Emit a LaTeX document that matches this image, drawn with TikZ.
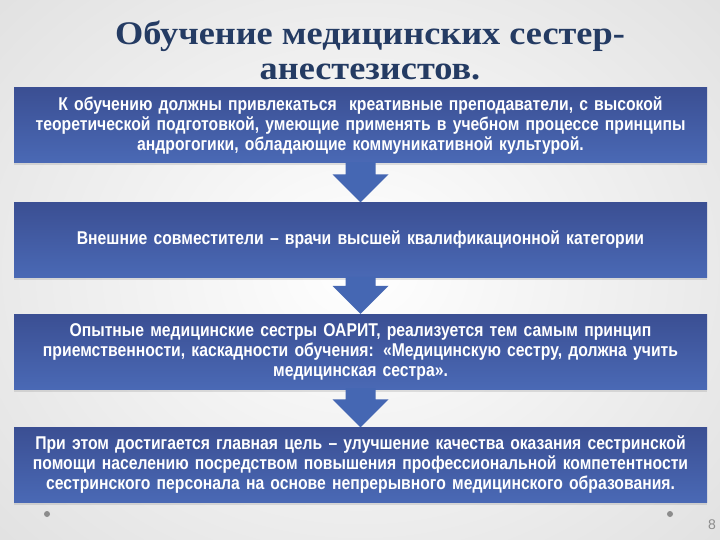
\documentclass[tikz,border=0pt]{standalone}
\usepackage{fontspec}
\setmainfont{Liberation Sans}
\newfontfamily\titlefont[FakeStretch=1.1]{Liberation Serif}
\newfontfamily\boxfont[FakeStretch=0.85]{Liberation Sans}
\usetikzlibrary{shadows,calc}
\definecolor{titleblue}{HTML}{243B63}
\definecolor{boxtop}{HTML}{3B4F93}
\definecolor{boxbot}{HTML}{4A69B5}
\definecolor{arrowfill}{HTML}{4567B3}
\definecolor{dotgray}{HTML}{8C8C8C}
\tikzset{
  stagebox/.style={draw=none, top color=boxtop, bottom color=boxbot, text=white,
    minimum width=693pt, minimum height=75pt, inner sep=0pt, align=center, text width=686pt,
    font=\boxfont\bfseries\fontsize{18.5}{20}\selectfont,
    drop shadow={opacity=0.22, shadow xshift=0pt, shadow yshift=-2.5pt}},
  downarrow/.style={fill=arrowfill, draw=none},
  pagedot/.style={circle, fill=dotgray, inner sep=0pt, minimum size=6pt}
}
\begin{document}
\begin{tikzpicture}[x=1pt,y=-1pt]
\path[use as bounding box] (0,0) rectangle (720,540);
\shade[inner color=white, outer color=black!12] (-150,-150) rectangle (870,690);
\node[font=\titlefont\bfseries\fontsize{33}{35}\selectfont, text=titleblue, align=center] (title) at (370,50) {Обучение медицинских сестер-\\анестезистов.};
\node[stagebox] (b1) at (360.5,125.5) {К обучению должны привлекаться \ креативные преподаватели, с высокой\\теоретической подготовкой, умеющие применять в учебном процессе принципы\\андрогогики, обладающие коммуникативной культурой.};
\node[stagebox] (b2) at (360.5,240) {Внешние совместители – врачи высшей квалификационной категории};
\node[stagebox] (b3) at (360.5,351.5) {Опытные медицинские сестры ОАРИТ, реализуется тем самым принцип\\приемственности, каскадности обучения: «Медицинскую сестру, должна учить\\медицинская сестра».};
\node[stagebox] (b4) at (360.5,465) {При этом достигается главная цель – улучшение качества оказания сестринской\\помощи населению посредством повышения профессиональной компетентности\\сестринского персонала на основе непрерывного медицинского образования.};
\foreach \a/\b in {b1/b2, b2/b3, b3/b4}{
  \fill[downarrow] let \p1=(\a.south), \p2=(\b.north) in
    (\x2-15pt,\y1+1pt) -- (\x2-15pt,\y2+28pt) -- (\x2-28pt,\y2+28pt) -- (\x2,\y2) --
    (\x2+28pt,\y2+28pt) -- (\x2+15pt,\y2+28pt) -- (\x2+15pt,\y1+1pt) -- cycle;
}
\node[pagedot] (d1) at (47,514) {};
\node[pagedot] (d2) at (670,514) {};
\node[text=dotgray, font=\fontsize{14}{14}\selectfont] (pg) at (712,525) {8};
\end{tikzpicture}
\end{document}
